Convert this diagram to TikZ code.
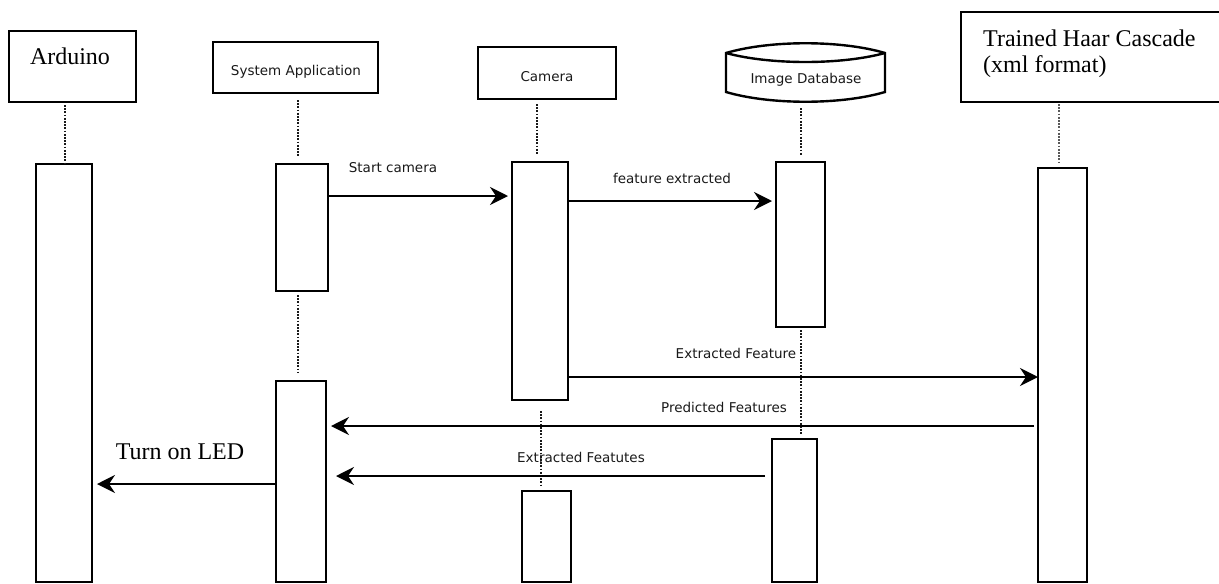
\documentclass[tikz,border=0pt]{standalone}
\usepackage{fontspec}
\setmainfont{Liberation Serif}
\newfontfamily\uifont{DejaVu Sans}
\usetikzlibrary{arrows.meta}

\begin{document}
\begin{tikzpicture}[x=1pt,y=-1pt,
  head/.style={draw, line width=2.4pt, inner sep=0pt, outer sep=0pt},
  serifhead/.style={draw, line width=2pt, inner sep=0pt, outer sep=0pt},
  act/.style={draw, line width=2.4pt, fill=white, inner sep=0pt, outer sep=0pt},
  life/.style={line width=2.6pt, dash pattern=on 1.8pt off 1.4pt, black!90},
  msg/.style={line width=2.3pt, -{Stealth[length=18pt,width=18pt,inset=6pt]}},
  uilabel/.style={font=\uifont\fontsize{13.5}{16}\selectfont, text=black!90, inner sep=0pt, anchor=base},
  serlabel/.style={font=\fontsize{24}{27}\selectfont, inner sep=0pt, anchor=base}
]
\useasboundingbox (0,0) rectangle (1219,584);

% participant heads
\node[serifhead, minimum width=127pt, minimum height=71pt] (ardhead) at (72.5,66.5) {};
\node[serlabel] at (70,64) {Arduino};

\node[head, minimum width=165pt, minimum height=51pt] (sahead) at (295.5,67.5) {};
\node[uilabel] at (296,75) {System Application};

\node[head, minimum width=138pt, minimum height=52pt] (camhead) at (547,73) {};
\node[uilabel] at (547,81) {Camera};

% database drum
\draw[line width=2.4pt] (726,53) .. controls (770,40) and (841,40) .. (885,53)
  -- (885,92) .. controls (841,105) and (770,105) .. (726,92) -- cycle;
\draw[line width=2.4pt] (726,53) .. controls (770,65) and (841,65) .. (885,53);
\coordinate (dbhead) at (805.5,102);
\node[uilabel] at (806,83) {Image Database};

% cascade file head, running off the right edge
\node[serifhead, minimum width=264pt, minimum height=90pt] (haarhead) at (1093,57) {};
\node[serlabel, anchor=base west] at (983,46) {Trained Haar Cascade};
\node[serlabel, anchor=base west] at (983,72) {(xml format)};

% activation bars
\node[act, minimum width=56pt, minimum height=418pt] (ard)  at (64,373) {};
\node[act, minimum width=52pt, minimum height=127pt] (sa1)  at (302,227.5) {};
\node[act, minimum width=50pt, minimum height=201pt] (sa2)  at (301,481.5) {};
\node[act, minimum width=56pt, minimum height=238pt] (cam1) at (540,281) {};
\node[act, minimum width=49pt, minimum height=91pt]  (cam2) at (546.5,536.5) {};
\node[act, minimum width=49pt, minimum height=165pt] (db1)  at (800.5,244.5) {};
\node[act, minimum width=45pt, minimum height=143pt] (db2)  at (794.5,510.5) {};
\node[act, minimum width=49pt, minimum height=414pt] (haar) at (1062.5,375) {};

% lifelines
\draw[life] (ardhead.south -| 65,0) ++(0,3) -- (ard.north -| 65,0);
\draw[life] (sahead.south -| 298,0) ++(0,7) -- ([yshift=7pt]sa1.north -| 298,0);
\draw[life] ([yshift=-4pt]sa1.south -| 298,0) -- ([yshift=8pt]sa2.north -| 298,0);
\draw[life] (camhead.south -| 537,0) ++(0,5) -- ([yshift=7pt]cam1.north -| 537,0);
\draw[life] ([yshift=-11pt]cam1.south -| 541,0) -- ([yshift=4pt]cam2.north -| 541,0);
\draw[life] (dbhead -| 801,0) ++(0,6) -- ([yshift=7pt]db1.north -| 801,0);
\draw[life] ([yshift=-3pt]db1.south -| 801,0) -- ([yshift=4pt]db2.north -| 801,0);
\draw[life, line width=2pt, black!65] (haarhead.south -| 1059,0) ++(0,2) -- ([yshift=5pt]haar.north -| 1059,0);

% messages
\draw[msg] (sa1.east |- 0,196) -- ([xshift=-4pt]cam1.west |- 0,196);
\node[uilabel] at (393,172) {Start camera};

\draw[msg] (cam1.east |- 0,201) -- ([xshift=-4pt]db1.west |- 0,201);
\node[uilabel] at (672,183) {feature extracted};

\draw[msg] (cam1.east |- 0,377) -- (haar.west |- 0,377);
\node[uilabel] at (736,358) {Extracted Feature};

\draw[msg] ([xshift=-4pt]haar.west |- 0,426) -- ([xshift=5pt]sa2.east |- 0,426);
\node[uilabel] at (724,412) {Predicted Features};

\draw[msg] ([xshift=-7pt]db2.west |- 0,476) -- ([xshift=10pt]sa2.east |- 0,476);
\node[uilabel] at (581,462) {Extracted Featutes};

\draw[msg] (sa2.west |- 0,484) -- ([xshift=5pt]ard.east |- 0,484);
\node[serlabel] at (180,459) {Turn on LED};
\end{tikzpicture}
\end{document}
